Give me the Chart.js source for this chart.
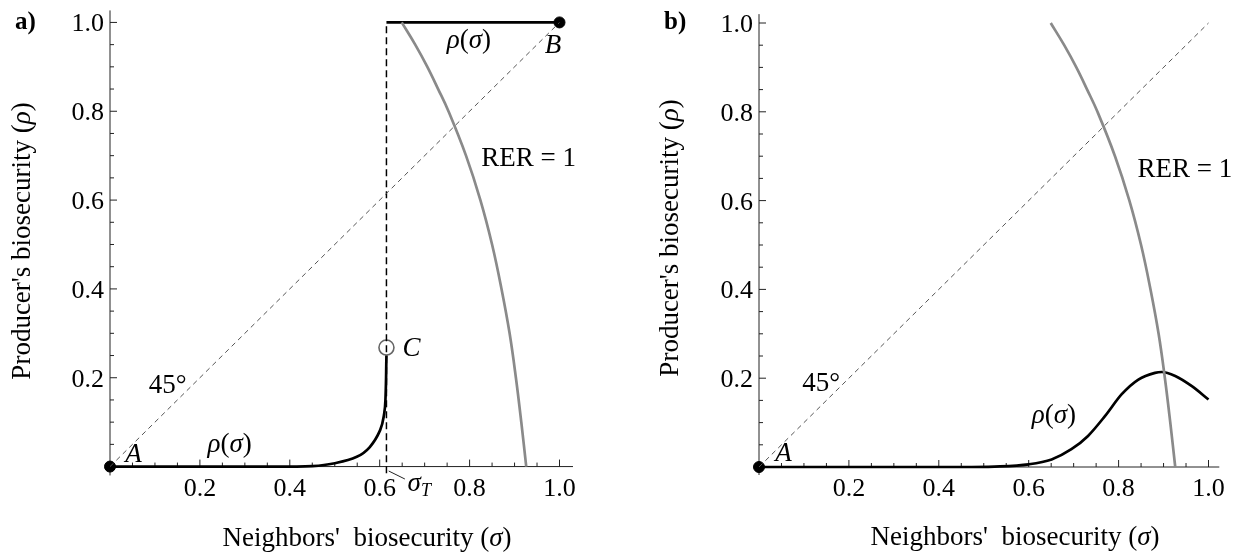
<!DOCTYPE html>
<html>
<head>
<meta charset="utf-8">
<script src="https://cdn.jsdelivr.net/npm/chart.js@4.4.1/dist/chart.umd.min.js"></script>
<style>
  body { margin: 0; background: #fff; }
  #wrap { position: relative; width: 1243px; height: 560px; }
  .panel { position: absolute; top: 0; height: 560px; }
  #panelA { left: 0; width: 621px; }
  #panelB { left: 621px; width: 622px; }
</style>
</head>
<body>
<div id="wrap">
  <div class="panel" id="panelA"><canvas id="chartA"></canvas></div>
  <div class="panel" id="panelB"><canvas id="chartB"></canvas></div>
</div>
<script>
// tick labels (both axes, both panels)
const sigmaTicks = [0.2, 0.4, 0.6, 0.8, 1.0];
const rhoTicks = [0.2, 0.4, 0.6, 0.8, 1.0];
const minorStep = 0.05;

// RER = 1 curve, same in both panels (sigma read for each rho)
const rerSigma = [0.649, 0.679, 0.706, 0.730, 0.753, 0.792, 0.824, 0.850, 0.871, 0.889, 0.903, 0.915, 0.926];
const rerRho   = [1.00, 0.95, 0.90, 0.85, 0.80, 0.70, 0.60, 0.50, 0.40, 0.30, 0.20, 0.10, 0.00];

// 45 degree line
const diagSigma = [0, 1];
const diagRho = [0, 1];

// panel a: best response, lower branch up to sigma_T
const aLowSigma = [0, 0.40, 0.45, 0.497, 0.549, 0.578, 0.601, 0.610, 0.613, 0.615];
const aLowRho   = [0, 0, 0.001, 0.007, 0.022, 0.044, 0.082, 0.119, 0.156, 0.25];
// panel a: upper branch
const aHighSigma = [0.615, 1.0];
const aHighRho = [1.0, 1.0];
// panel a: threshold sigma_T (dashed vertical)
const sigmaT = 0.615;
const tLineRho = [-0.015, 1.0];
// panel a: equilibrium points A, B and the open point C
const aDotSigma = [0, 1];
const aDotRho = [0, 1];
const cSigma = [0.615];
const cRho = [0.268];

// panel b: best response
const bSigma = [0, 0.45, 0.524, 0.60, 0.651, 0.695, 0.732, 0.770, 0.807, 0.844, 0.881, 0.896, 0.926, 0.963, 1.0];
const bRho   = [0, 0, 0.001, 0.006, 0.017, 0.040, 0.070, 0.115, 0.164, 0.197, 0.212, 0.214, 0.205, 0.182, 0.152];
const bDotSigma = [0];
const bDotRho = [0];

const SERIF = '"Liberation Serif", "Times New Roman", Times, "DejaVu Serif", serif';
Chart.defaults.font.family = SERIF;

const pts = (xs, ys) => xs.map((x, i) => ({ x, y: ys[i] }));

// padding that puts value 0 and 1 at given pixels
function frame(w, h, px, py, xr, yr) {
  const sx = px[1] - px[0], sy = py[0] - py[1];
  return {
    left: px[0] + xr[0] * sx,
    right: w - (px[0] + xr[1] * sx),
    top: py[1] - (yr[1] - 1) * sy,
    bottom: h - (py[0] - yr[0] * sy)
  };
}

function fontOf(p) {
  const size = p[2] || 27;
  const st = p[1] || '';
  return (st.includes('i') ? 'italic ' : '') + (st.includes('b') ? 'bold ' : '') + size + 'px ' + SERIF;
}

// draw text made of styled parts: [text, style, size, dy]
function drawParts(ctx, x, y, parts, align) {
  const widths = parts.map(p => { ctx.font = fontOf(p); return ctx.measureText(p[0]).width; });
  const total = widths.reduce((a, b) => a + b, 0);
  let cx = align === 'center' ? x - total / 2 : x;
  parts.forEach((p, i) => {
    ctx.font = fontOf(p);
    ctx.fillText(p[0], cx, y + (p[3] || 0));
    cx += widths[i];
  });
}

const rhoOfSigma = [['ρ', 'i'], ['('], ['σ', 'i'], [')']];

const mathAxes = {
  id: 'mathAxes',
  beforeDatasetsDraw(chart, args, o) {
    const { ctx, scales: { x, y } } = chart;
    const X0 = x.getPixelForValue(0), Y0 = y.getPixelForValue(0);
    ctx.save();
    ctx.strokeStyle = '#222';
    ctx.lineWidth = 1;
    ctx.beginPath();
    ctx.moveTo(x.getPixelForValue(o.xAxis[0]), Y0);
    ctx.lineTo(x.getPixelForValue(o.xAxis[1]), Y0);
    ctx.moveTo(X0, y.getPixelForValue(o.yAxis[0]));
    ctx.lineTo(X0, y.getPixelForValue(o.yAxis[1]));
    for (let k = 1; k * minorStep <= 1.0001; k++) {
      const v = k * minorStep;
      const len = k % 4 === 0 ? 7 : 4;
      const xp = x.getPixelForValue(v), yp = y.getPixelForValue(v);
      ctx.moveTo(xp, Y0); ctx.lineTo(xp, Y0 - len);
      ctx.moveTo(X0, yp); ctx.lineTo(X0 + len, yp);
    }
    ctx.stroke();

    ctx.fillStyle = '#000';
    ctx.font = '26px ' + SERIF;
    ctx.textAlign = 'center';
    sigmaTicks.forEach(v => ctx.fillText(v.toFixed(1), x.getPixelForValue(v), Y0 + 29));
    ctx.textAlign = 'right';
    rhoTicks.forEach(v => ctx.fillText(v.toFixed(1), X0 - 6, y.getPixelForValue(v) + 9));
    ctx.textAlign = 'left';

    // axis titles and panel tag
    drawParts(ctx, o.titleX[0], o.titleX[1], [["Neighbors'  biosecurity ("], ['σ', 'i'], [')']], 'center');
    ctx.save();
    ctx.translate(o.titleY[0], o.titleY[1]);
    ctx.rotate(-Math.PI / 2);
    drawParts(ctx, 0, 0, [["Producer's biosecurity ("], ['ρ', 'i'], [')']], 'center');
    ctx.restore();
    drawParts(ctx, o.tag[0], o.tag[1], [[o.tag[2], 'b', 25]]);
    ctx.restore();
  },
  afterDatasetsDraw(chart, args, o) {
    const { ctx, scales: { x, y } } = chart;
    ctx.save();
    ctx.fillStyle = '#000';
    o.notes.forEach(n => drawParts(ctx, x.getPixelForValue(n.at[0]), y.getPixelForValue(n.at[1]), n.parts));
    if (o.leader) {
      ctx.strokeStyle = '#222';
      ctx.lineWidth = 1;
      ctx.beginPath();
      ctx.moveTo(x.getPixelForValue(o.leader[0]), y.getPixelForValue(o.leader[1]));
      ctx.lineTo(x.getPixelForValue(o.leader[2]), y.getPixelForValue(o.leader[3]));
      ctx.stroke();
    }
    ctx.restore();
  }
};

function lineSet(data, color, width, opts) {
  return Object.assign({
    data, showLine: true, borderColor: color, borderWidth: width, borderDash: [],
    pointRadius: 0, fill: false, tension: 0, borderCapStyle: 'butt'
  }, opts || {});
}
function dotSet(data, fill, border, r, bw) {
  return {
    data, showLine: false, pointRadius: r, pointBackgroundColor: fill,
    pointBorderColor: border, pointBorderWidth: bw || 1
  };
}

function makeChart(id, datasets, pad, axes) {
  return new Chart(document.getElementById(id), {
    type: 'scatter',
    data: { datasets },
    plugins: [mathAxes],
    options: {
      responsive: true,
      maintainAspectRatio: false,
      animation: false,
      layout: { padding: pad },
      scales: {
        x: { type: 'linear', display: false, min: axes.xr[0], max: axes.xr[1] },
        y: { type: 'linear', display: false, min: axes.yr[0], max: axes.yr[1] }
      },
      plugins: { legend: { display: false }, tooltip: { enabled: false }, mathAxes: axes }
    }
  });
}

const smooth = { tension: 0.4 };
const mono = { cubicInterpolationMode: 'monotone' };

// panel a
const axesA = {
  xr: [-0.02, 1.03], yr: [-0.02, 1.03],
  xAxis: [0, 1.03], yAxis: [-0.02, 1.027],
  titleX: [367, 546], titleY: [30, 241], tag: [15, 29, 'a)'],
  leader: [0.62, -0.01, 0.656, -0.028],
  notes: [
    { at: [0.749, 0.942], parts: rhoOfSigma },
    { at: [0.967, 0.931], parts: [['B', 'i']] },
    { at: [0.826, 0.676], parts: [['RER = 1']] },
    { at: [0.651, 0.249], parts: [['C', 'i']] },
    { at: [0.086, 0.166], parts: [['45°']] },
    { at: [0.034, 0.010], parts: [['A', 'i']] },
    { at: [0.217, 0.032], parts: rhoOfSigma },
    { at: [0.662, -0.055], parts: [['σ', 'i'], ['T', 'i', 18, 5]] }
  ]
};
makeChart('chartA', [
  lineSet(pts(diagSigma, diagRho), '#555', 1, { borderDash: [5, 4] }),
  lineSet(pts([sigmaT, sigmaT], tLineRho), '#000', 1.5, { borderDash: [7, 4] }),
  lineSet(pts(rerSigma, rerRho), '#8a8a8a', 2.7, smooth),
  lineSet(pts(aLowSigma, aLowRho), '#000', 2.7, smooth),
  lineSet(pts(aHighSigma, aHighRho), '#000', 2.7),
  dotSet(pts(aDotSigma, aDotRho), '#000', '#000', 5.5),
  dotSet(pts(cSigma, cRho), '#fff', '#666', 7.5, 1.6)
], frame(621, 560, [110, 559.5], [466.5, 19], [-0.02, 1.03], [-0.02, 1.03]), axesA);

// panel b
const axesB = {
  xr: [-0.02, 1.025], yr: [-0.02, 1.025],
  xAxis: [0, 1.024], yAxis: [-0.018, 1.02],
  titleX: [394, 545], titleY: [57, 238], tag: [43, 29, 'b)'],
  notes: [
    { at: [0.096, 0.171], parts: [['45°']] },
    { at: [0.036, 0.0135], parts: [['A', 'i']] },
    { at: [0.607, 0.10], parts: rhoOfSigma },
    { at: [0.842, 0.653], parts: [['RER = 1']] }
  ]
};
makeChart('chartB', [
  lineSet(pts(diagSigma, diagRho), '#555', 1, { borderDash: [5, 4] }),
  lineSet(pts(rerSigma, rerRho), '#8a8a8a', 2.7, smooth),
  lineSet(pts(bSigma, bRho), '#000', 2.7, mono),
  dotSet(pts(bDotSigma, bDotRho), '#000', '#000', 5.5)
], frame(622, 560, [138, 587.5], [467, 23], [-0.02, 1.025], [-0.02, 1.025]), axesB);
</script>
</body>
</html>
